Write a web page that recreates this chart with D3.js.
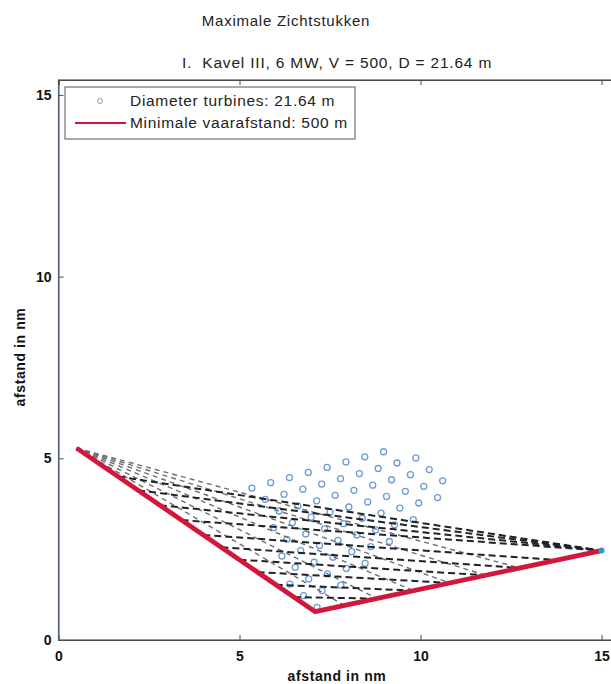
<!DOCTYPE html>
<html><head><meta charset="utf-8">
<script src="https://cdn.jsdelivr.net/npm/d3@7"></script>
<style>body{margin:0;background:#fff}svg{display:block}text{font-family:"Liberation Sans",Arial,sans-serif}</style>
</head><body>
<script>
// ---- data ----
const titleText = "Maximale Zichtstukken";
const subtitleText = "I.  Kavel III, 6 MW, V = 500, D = 21.64 m";
const xTicks = [0, 5, 10, 15];
const yTicks = [0, 5, 10, 15];
const legendLabels = ["Diameter turbines: 21.64 m", "Minimale vaarafstand: 500 m"];
const axisLabel = "afstand in nm";

// turbine positions (nm)
const turbineX = [5.34,5.86,6.38,6.90,7.42,7.94,8.46,8.98,
  5.71,6.23,6.75,7.27,7.79,8.31,8.83,9.35,9.87,
  6.09,6.61,7.13,7.64,8.16,8.68,9.20,9.72,10.24,
  5.94,6.46,6.98,7.50,8.02,8.54,9.06,9.58,10.09,10.61,
  6.31,6.83,7.35,7.87,8.39,8.91,9.43,9.95,10.47,
  6.17,6.69,7.21,7.72,8.24,8.76,9.28,9.80,
  6.54,7.06,7.58,8.10,8.62,9.14,
  6.39,6.91,7.43,7.95,8.47,
  6.77,7.28,7.80,
  7.14];
const turbineY = [4.18,4.33,4.47,4.61,4.75,4.90,5.04,5.18,
  3.87,4.01,4.15,4.29,4.44,4.58,4.72,4.87,5.01,
  3.55,3.69,3.83,3.98,4.12,4.26,4.41,4.55,4.69,
  3.09,3.23,3.38,3.52,3.66,3.80,3.95,4.09,4.23,4.38,
  2.77,2.92,3.06,3.20,3.35,3.49,3.63,3.77,3.92,
  2.31,2.46,2.60,2.74,2.89,3.03,3.17,3.31,
  2.00,2.14,2.28,2.43,2.57,2.71,
  1.54,1.68,1.82,1.97,2.11,
  1.22,1.36,1.51,
  0.90];

// minimum sailing distance route (nm)
const routeX = [0.5, 7.09, 15.0];
const routeY = [5.28, 0.78, 2.46];

// sight lines: start x/y, end x/y (nm)
const sightX1 = [1.65, 2.2, 2.8, 3.4, 4.0, 4.5, 5.0, 5.5, 6.0, 6.5];
const sightY1 = [4.50, 4.12, 3.71, 3.30, 2.89, 2.55, 2.21, 1.87, 1.52, 1.18];
const sightX2 = [15.0, 15.0, 15.0, 15.0, 13.76, 12.75, 11.8, 10.8, 9.8, 8.8];
const sightY2 = [2.46, 2.46, 2.46, 2.46, 2.20, 1.98, 1.78, 1.57, 1.36, 1.14];
// lighter sight lines from the route start
const greyX1 = [0.5, 0.5, 0.5, 0.5, 0.5, 0.5];
const greyY1 = [5.28, 5.28, 5.28, 5.28, 5.28, 5.28];
const greyX2 = [7.9, 8.8, 9.8, 10.8, 11.8, 12.75];
const greyY2 = [0.95, 1.14, 1.36, 1.57, 1.78, 1.98];

// ---- drawing ----
const W = 611, H = 684;
const svg = d3.select("body").append("svg").attr("width", W).attr("height", H);
const x = d3.scaleLinear().domain([0, 15.3]).range([58.5, 612.4]);
const y = d3.scaleLinear().domain([0, 15.41]).range([640, 80]);

svg.append("text").attr("x", 286).attr("y", 26).attr("text-anchor", "middle")
  .attr("font-size", 15).attr("letter-spacing", 0.75).attr("fill", "#222").text(titleText);
svg.append("text").attr("x", 337).attr("y", 68).attr("text-anchor", "middle")
  .attr("font-size", 15.5).attr("letter-spacing", 0.8).attr("fill", "#222")
  .attr("xml:space","preserve").style("white-space","pre").text(subtitleText);

// frame
svg.append("rect").attr("x", x(0)).attr("y", y(15.41)).attr("width", x(15.3) - x(0)).attr("height", y(0) - y(15.41))
  .attr("fill", "none").attr("stroke", "#555").attr("stroke-width", 1.2);

// turbines
svg.append("g").selectAll("circle").data(turbineX).join("circle")
  .attr("cx", (d, i) => x(d)).attr("cy", (d, i) => y(turbineY[i])).attr("r", 3)
  .attr("fill", "none").attr("stroke", "#6d9bd6").attr("stroke-width", 1.3);

// sight lines
svg.append("g").selectAll("line").data(greyX1).join("line")
  .attr("x1", (d) => x(d)).attr("y1", (d, i) => y(greyY1[i]))
  .attr("x2", (d, i) => x(greyX2[i])).attr("y2", (d, i) => y(greyY2[i]))
  .attr("stroke", "#6a6f74").attr("stroke-width", 1.4).attr("stroke-dasharray", "5,4");
svg.append("g").selectAll("line").data(sightX1).join("line")
  .attr("x1", (d) => x(d)).attr("y1", (d, i) => y(sightY1[i]))
  .attr("x2", (d, i) => x(sightX2[i])).attr("y2", (d, i) => y(sightY2[i]))
  .attr("stroke", "#1f2326").attr("stroke-width", 2).attr("stroke-dasharray", "7,4");

// route
const line = d3.line().x((d) => x(d)).y((d, i) => y(routeY[i]));
svg.append("path").attr("d", line(routeX)).attr("fill", "none")
  .attr("stroke", "#d3173c").attr("stroke-width", 4.8).attr("stroke-linejoin", "miter");
svg.append("circle").attr("cx", x(routeX[2])).attr("cy", y(routeY[2])).attr("r", 3).attr("fill", "#2f9bd0");

// axes
const fmt = d3.format("d");
const gx = svg.append("g").attr("transform", `translate(0,${y(0)})`)
  .call(d3.axisBottom(x).tickValues(xTicks).tickSize(-5).tickPadding(11).tickFormat(fmt));
const gy = svg.append("g").attr("transform", `translate(${x(0)},0)`)
  .call(d3.axisLeft(y).tickValues(yTicks).tickSize(-5).tickPadding(7).tickFormat(fmt));
const gt = svg.append("g").attr("transform", `translate(0,${y(15.41)})`)
  .call(d3.axisTop(x).tickValues(xTicks).tickSize(-5).tickFormat(""));
[gx, gy, gt].forEach(g => {
  g.select(".domain").attr("stroke", "#4a4a4a").attr("stroke-width", 1.2);
  g.selectAll(".tick line").attr("stroke", "#4a4a4a");
  g.selectAll("text").attr("font-size", 14).attr("font-weight", "bold").attr("fill", "#111")
    .attr("font-family", '"Liberation Sans",Arial,sans-serif');
});
gy.select(".domain").attr("stroke", "#5a6d96");

svg.append("text").attr("x", 337).attr("y", 681).attr("text-anchor", "middle")
  .attr("font-size", 14).attr("letter-spacing", 0.6).attr("font-weight", "bold").attr("fill", "#111").text(axisLabel);
svg.append("text").attr("transform", "translate(25,357) rotate(-90)").attr("text-anchor", "middle")
  .attr("font-size", 14).attr("letter-spacing", 0.6).attr("font-weight", "bold").attr("fill", "#111").text(axisLabel);

// legend
const lg = svg.append("g");
lg.append("rect").attr("x", 65).attr("y", 87).attr("width", 290).attr("height", 52)
  .attr("fill", "#fff").attr("stroke", "#555").attr("stroke-width", 1);
lg.append("circle").attr("cx", 100).attr("cy", 101).attr("r", 2.5).attr("fill", "none")
  .attr("stroke", "#999").attr("stroke-width", 1);
lg.append("line").attr("x1", 75).attr("x2", 126).attr("y1", 123).attr("y2", 123)
  .attr("stroke", "#d3173c").attr("stroke-width", 2);
lg.selectAll("text.leg").data(legendLabels).join("text").attr("class", "leg")
  .attr("x", 130).attr("y", (d, i) => 106 + i * 22).attr("font-size", 15.5).attr("letter-spacing", 0.7)
  .attr("fill", "#222").text(d => d);
</script>
</body></html>
